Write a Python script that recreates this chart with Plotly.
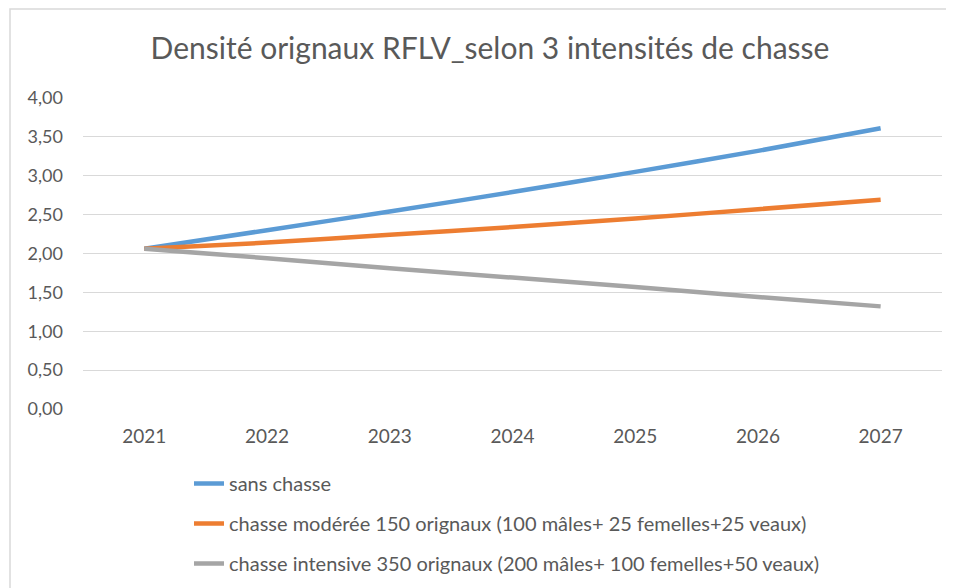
import plotly.graph_objects as go

years = ["2021", "2022", "2023", "2024", "2025", "2026", "2027"]
sans_chasse = [2.06, 2.30, 2.54, 2.79, 3.05, 3.32, 3.61]
chasse_moderee = [2.06, 2.14, 2.24, 2.34, 2.45, 2.57, 2.69]
chasse_intensive = [2.06, 1.94, 1.81, 1.69, 1.57, 1.44, 1.32]
series_names = [
    "sans chasse",
    "chasse modérée 150 orignaux (100 mâles+ 25 femelles+25 veaux)",
    "chasse intensive 350 orignaux (200 mâles+ 100 femelles+50 veaux)",
]
colors = ["#5B9BD5", "#ED7D31", "#A5A5A5"]
y_ticks = [0, 0.5, 1, 1.5, 2, 2.5, 3, 3.5, 4]

FONT = "Lato, 'Open Sans', sans-serif"
TXT = "#595959"

fig = go.Figure()
for i, (name, vals) in enumerate(zip(series_names, [sans_chasse, chasse_moderee, chasse_intensive])):
    fig.add_trace(go.Scatter(
        x=years, y=vals, name=name, mode="lines",
        line=dict(color=colors[i], width=4.5, shape="spline", smoothing=0.6),
        legendgroup=f"g{i}",
    ))

# page body has an 8px default margin, so the figure is laid out 8px up/left
W, H = 946, 580
L, R, T, B = 75, 12, 90, 179
pw = W - L - R
ph = H - T - B
bottom = H - B

fig.update_layout(
    width=W, height=H,
    margin=dict(l=L, r=R, t=T, b=B, autoexpand=False),
    paper_bgcolor="white", plot_bgcolor="white",
    separators=", ",
    font=dict(family=FONT, color=TXT, size=19),
    title=dict(
        text="Densité orignaux RFLV_selon 3 intensités de chasse",
        x=482 / W, xanchor="center", xref="container",
        y=1 - 40 / H, yanchor="middle", yref="container",
        font=dict(family=FONT, size=30, color=TXT),
        automargin=False,
    ),
    xaxis=dict(
        type="category", range=[-0.5, 6.5], showgrid=False, zeroline=False,
        showline=False, ticks="", tickfont=dict(size=19, color=TXT),
        ticklabelstandoff=14, automargin=False,
    ),
    yaxis=dict(
        range=[0, 4], tickvals=y_ticks, tickformat=".2f",
        showgrid=True, gridcolor="#D9D9D9", gridwidth=1.3,
        zeroline=False, showline=False, ticks="",
        tickfont=dict(size=18, color=TXT), ticklabelstandoff=19,
        automargin=False,
    ),
    showlegend=True,
    legend=dict(
        x=(181 - L) / pw, xanchor="left", y=(bottom - 456) / ph, yanchor="top",
        traceorder="grouped", tracegroupgap=11,
        font=dict(size=20, color=TXT), bgcolor="rgba(0,0,0,0)",
    ),
    shapes=[dict(
        type="rect", xref="paper", yref="paper",
        x0=(2 - L) / pw, x1=(W + 10 - L) / pw,
        y0=(bottom - (H + 10)) / ph, y1=(bottom - 1) / ph,
        line=dict(color="#D9D9D9", width=1.5), fillcolor="rgba(0,0,0,0)", layer="below",
    )],
)

fig.write_html("out.html")
